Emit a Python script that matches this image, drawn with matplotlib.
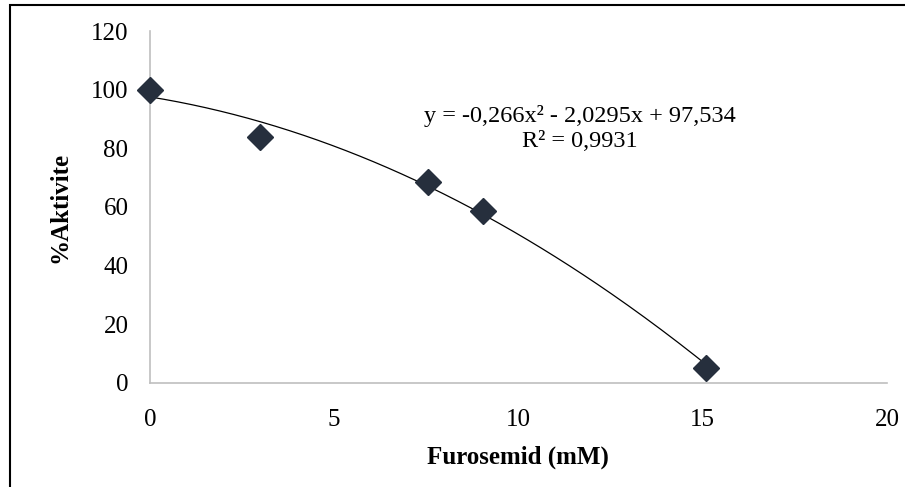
import numpy as np
import matplotlib.pyplot as plt
from matplotlib.patches import Rectangle

plt.rcParams['font.family'] = ['Liberation Serif', 'DejaVu Serif']

# measured points
furosemid = [0, 3.0, 7.55, 9.05, 15.1]
aktivite = [100, 84, 68.5, 58.5, 5]

# polynomial trendline coefficients (from the chart's equation)
coef = [-0.266, -2.0295, 97.534]
eq_text = 'y = -0,266x² - 2,0295x + 97,534'
r2_text = 'R² = 0,9931'

xticks = [0, 5, 10, 15, 20]
yticks = [0, 20, 40, 60, 80, 100, 120]

fig = plt.figure(figsize=(9.05, 4.87), dpi=100)
ax = fig.add_axes([0.1657, 0.2136, 0.8143, 0.7227])

xs = np.linspace(min(furosemid), max(furosemid), 200)
ax.plot(xs, np.polyval(coef, xs), color='black', lw=0.9, zorder=2)
ax.plot(furosemid, aktivite, 'D', color='#262F3D', markersize=13, zorder=3, clip_on=False)

ax.set_xlim(0, 20)
ax.set_ylim(0, 120)
ax.set_xticks(xticks)
ax.set_yticks(yticks)
ax.tick_params(length=0, labelsize=18)
ax.tick_params(axis='x', pad=19)
ax.tick_params(axis='y', pad=15.5)
for s in ['top', 'right']:
    ax.spines[s].set_visible(False)
for s in ['left', 'bottom']:
    ax.spines[s].set_color('#BFBFBF')
    ax.spines[s].set_linewidth(1.2)

ax.set_xlabel('Furosemid (mM)', fontsize=18, fontweight='bold', labelpad=10)
ax.set_ylabel('%Aktivite', fontsize=18, fontweight='bold', labelpad=14)

ax.text(11.67, 91.0, eq_text, fontsize=17.5, ha='center', va='center')
ax.text(11.67, 82.5, r2_text, fontsize=17.5, ha='center', va='center')

fig.patches.append(Rectangle((10 / 905, -0.1), 1.2, 1 - 5 / 487 + 0.1,
                             transform=fig.transFigure, fill=False,
                             edgecolor='black', lw=1.5))

fig.savefig('out.png', dpi=100)
